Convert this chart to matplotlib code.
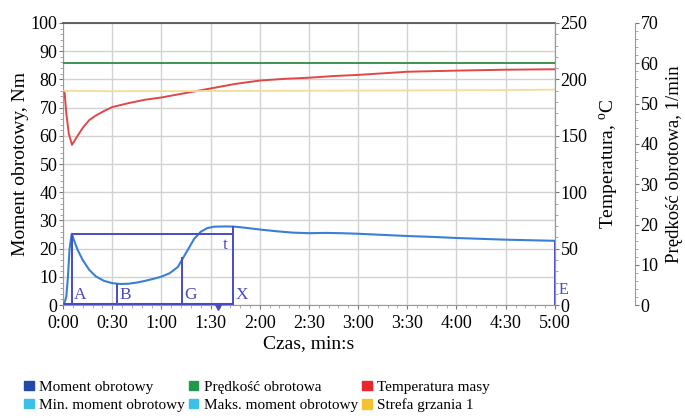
import matplotlib
matplotlib.use("Agg")
import matplotlib.pyplot as plt
from matplotlib.ticker import MultipleLocator, FuncFormatter
from matplotlib.patches import Patch

plt.rcParams['font.family'] = ['Liberation Serif', 'DejaVu Serif']
plt.rcParams['mathtext.fontset'] = 'custom'
plt.rcParams['mathtext.rm'] = 'Liberation Serif'

# moment obrotowy, Nm
t_moment = [0, 1, 2, 3, 4, 5.3, 7, 9, 12, 16, 20, 25, 30, 35, 40, 45, 50, 55, 60, 65,
            70, 73, 76, 80, 84, 88, 92, 100, 105, 110, 120, 130, 140, 150, 160, 170,
            180, 195, 210, 225, 240, 255, 270, 285, 300]
moment = [0.5, 1, 3, 10, 20, 25.3, 22.5, 19.5, 16, 12.5, 10.2, 8.6, 7.8, 7.5, 7.6, 8.0,
          8.6, 9.3, 10.1, 11.3, 13.5, 16.5, 19.5, 23.5, 26, 27.3, 27.8, 27.9, 27.8, 27.5,
          26.8, 26.2, 25.7, 25.5, 25.6, 25.5, 25.3, 24.9, 24.5, 24.2, 23.8, 23.5, 23.2,
          23.0, 22.8]

# temperatura masy, C
t_temp = [0, 1, 2, 3.5, 5.5, 8, 12, 16, 20, 25, 30, 40, 50, 60, 75, 90, 105, 120, 135,
          150, 165, 180, 210, 240, 270, 300]
temp = [190, 188, 170, 152, 142, 148, 157, 164, 168, 172, 175.5, 179, 182, 184, 188,
        192, 196, 199, 200.5, 201.5, 203, 204, 206.8, 207.8, 208.6, 209]

# strefa grzania 1, C
t_zone = [0, 30, 150, 270, 300]
zone = [190, 189.5, 190, 190.5, 191]

# predkosc obrotowa, 1/min
t_speed = [0, 300]
speed = [60, 60]

# punkty charakterystyczne
pt_names = ['A', 'B', 'G', 'X', 'E']
pt_t = [5.3, 33, 72.4, 103.8, 300]
pt_val = [25.3, 7.5, 17, 28, 22.8]
t_mark = 94.7

legend_names = ['Moment obrotowy', 'Prędkość obrotowa', 'Temperatura masy',
                'Min. moment obrotowy', 'Maks. moment obrotowy', 'Strefa grzania 1']
legend_colors = ['#2448a8', '#22994a', '#e8262c', '#3cc0e8', '#3cc0e8', '#f7c230']

fig = plt.figure(figsize=(6.85, 4.18), dpi=100)
ax = fig.add_axes([0.092, 0.270, 0.718, 0.675])
ax2 = ax.twinx()
ax3 = ax.twinx()
ax3.spines['right'].set_position(('axes', 1.163))

grid_c = '#d2d2d2'
mark_c = '#4a4ac4'

ax.plot(t_moment, moment, color='#3a7fd6', lw=1.5, zorder=5)
ax2.plot(t_temp, temp, color='#e04848', lw=1.4)
ax2.plot(t_zone, zone, color='#f3dc98', lw=1.3)
ax3.plot(t_speed, speed, color='#2e8b40', lw=1.3)

# markers
ax.vlines(pt_t, 0, pt_val, color=mark_c, lw=1.4, zorder=6)
ax.hlines(pt_val[0], pt_t[0], pt_t[3], color=mark_c, lw=1.4, zorder=6)
ax.hlines(0.3, 0, pt_t[3], color=mark_c, lw=2.2, zorder=6)
ax.plot([t_mark], [-0.6], marker='v', ms=4, color=mark_c, clip_on=False, zorder=7)
for name, tt in zip(pt_names[:4], pt_t[:4]):
    ax.text(tt + 1.5, 0.8, name, color=mark_c, fontsize=12.5, ha='left', va='bottom', zorder=7)
ax.text(pt_t[4] + 2, 5.3, pt_names[4], color=mark_c, fontsize=11.5, ha='left', va='center',
        clip_on=False)
ax.text(pt_t[3] - 5, pt_val[0] - 1, 't', color=mark_c, fontsize=12.5, ha='center', va='top')

ax.set_xlim(0, 300)
ax.set_ylim(0, 100)
ax2.set_ylim(0, 250)
ax3.set_ylim(0, 70)

ax.xaxis.set_major_locator(MultipleLocator(30))
ax.xaxis.set_minor_locator(MultipleLocator(6))
ax.xaxis.set_major_formatter(FuncFormatter(lambda v, p: '%d:%02d' % (v // 60, v % 60)))
ax.yaxis.set_major_locator(MultipleLocator(10))
ax.yaxis.set_minor_locator(MultipleLocator(2))
ax2.yaxis.set_major_locator(MultipleLocator(50))
ax2.yaxis.set_minor_locator(MultipleLocator(10))
ax3.yaxis.set_major_locator(MultipleLocator(10))
ax3.yaxis.set_minor_locator(MultipleLocator(2))

ax.grid(True, which='major', color=grid_c, lw=1)
ax.set_axisbelow(True)

for a in (ax, ax2, ax3):
    a.tick_params(which='major', labelsize=13, length=3, width=0.8, color='#777777', pad=1)
    a.tick_params(which='minor', length=2, width=0.6, color='#999999')
    for s in a.spines.values():
        s.set_color('#999999')
ax.tick_params(axis='x', which='major', pad=4)
ax.spines['top'].set_color('#555555')
ax.spines['top'].set_linewidth(1.3)
ax3.spines['left'].set_visible(False)
ax3.spines['top'].set_visible(False)
ax3.spines['bottom'].set_visible(False)
ax2.spines['left'].set_visible(False)
ax2.spines['bottom'].set_visible(False)
ax2.spines['top'].set_visible(False)

ax.set_xlabel('Czas, min:s', fontsize=14, labelpad=2)
ax.set_ylabel('Moment obrotowy, Nm', fontsize=14, labelpad=1)
ax2.set_ylabel('Temperatura, $^{\\rm o}$C', fontsize=14, labelpad=7)
ax3.set_ylabel('Prędkość obrotowa, 1/min', fontsize=13.5, labelpad=5)

handles = [Patch(color=c) for c in legend_colors]
order = [0, 3, 1, 4, 2, 5]
fig.legend([handles[i] for i in order], [legend_names[i] for i in order],
           loc='lower left', bbox_to_anchor=(0.02, -0.012), ncol=3, frameon=False,
           fontsize=11, handlelength=0.6, handleheight=0.6, handletextpad=0.35,
           columnspacing=0.3, labelspacing=0.3, borderpad=0.2)

fig.savefig('out.png', dpi=100)
